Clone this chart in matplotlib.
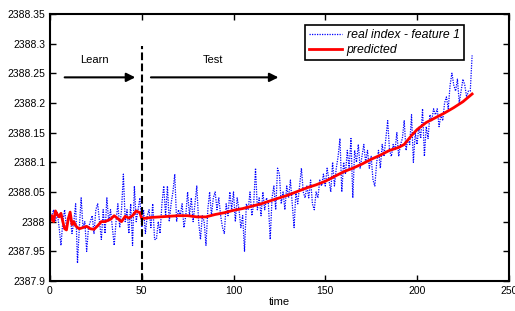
import matplotlib
matplotlib.use('Agg')
import matplotlib.pyplot as plt
import numpy as np

plt.rcParams['font.family'] = ['Liberation Sans', 'DejaVu Sans']

# real index - feature 1, one value per time step (t = 0..230)
real_vals = [
    2388.00, 2388.01, 2388.02, 2388.00, 2388.015, 2387.99, 2387.96, 2388.00, 2388.02, 2387.99,
    2388.00, 2388.01, 2387.98, 2388.00, 2388.03, 2387.93, 2387.99, 2388.04, 2387.99, 2388.00,
    2387.95, 2387.99, 2388.00, 2388.01, 2387.98, 2388.02, 2388.03, 2388.00, 2387.97, 2388.02,
    2387.98, 2388.04, 2388.00, 2388.02, 2387.99, 2387.96, 2388.00, 2388.03, 2387.99, 2388.02,
    2388.08, 2388.00, 2388.02, 2387.98, 2388.03, 2387.96, 2388.06, 2388.00, 2388.02, 2388.04,
    2387.99, 2388.02, 2387.98, 2388.01, 2388.02, 2387.99, 2388.03, 2387.97, 2387.97, 2388.00,
    2387.98, 2388.03, 2388.06, 2388.01, 2388.06, 2388.00, 2388.03, 2388.05, 2388.08, 2388.00,
    2388.02, 2388.01, 2388.03, 2387.99, 2388.01, 2388.05, 2388.01, 2388.04, 2388.00, 2388.03,
    2388.06, 2388.00, 2387.97, 2388.01, 2388.00, 2387.96, 2388.02, 2388.05, 2388.01, 2388.04,
    2388.05, 2388.02, 2388.04, 2388.01, 2387.99, 2387.98, 2388.03, 2388.01, 2388.05, 2388.02,
    2388.05, 2388.00, 2388.04, 2388.02, 2387.99, 2388.01, 2387.95, 2388.03, 2388.02, 2388.05,
    2388.01, 2388.03, 2388.09, 2388.02, 2388.04, 2388.01, 2388.05, 2388.02, 2388.04, 2388.03,
    2387.97, 2388.04, 2388.06, 2388.02, 2388.09, 2388.08, 2388.03, 2388.05, 2388.02, 2388.06,
    2388.04, 2388.07, 2388.03, 2387.99, 2388.05, 2388.03, 2388.06, 2388.09, 2388.05, 2388.04,
    2388.06, 2388.04, 2388.07, 2388.03, 2388.02, 2388.05, 2388.04, 2388.07, 2388.06, 2388.08,
    2388.06, 2388.09, 2388.07, 2388.05, 2388.10, 2388.06, 2388.09, 2388.11, 2388.14, 2388.05,
    2388.10, 2388.08, 2388.12, 2388.09, 2388.14, 2388.04, 2388.12, 2388.10, 2388.13, 2388.09,
    2388.11, 2388.13, 2388.10, 2388.12, 2388.09, 2388.11, 2388.07, 2388.06, 2388.10, 2388.12,
    2388.09, 2388.13, 2388.11, 2388.14, 2388.17, 2388.12, 2388.11, 2388.13, 2388.12, 2388.15,
    2388.11, 2388.13, 2388.14, 2388.17, 2388.12, 2388.14, 2388.13, 2388.18, 2388.10, 2388.15,
    2388.13, 2388.16, 2388.14, 2388.19, 2388.11, 2388.16, 2388.14, 2388.18, 2388.17, 2388.19,
    2388.18, 2388.19, 2388.16, 2388.18, 2388.17, 2388.20, 2388.21, 2388.19, 2388.23, 2388.25,
    2388.23, 2388.22, 2388.24, 2388.20, 2388.22, 2388.24, 2388.23, 2388.21, 2388.22, 2388.22,
    2388.28,
]
real_t = np.arange(len(real_vals))

# predicted series
pred_t = [0, 1, 2, 3, 4, 5, 6, 7, 8, 9, 10, 11, 12, 13, 14, 15, 16, 18, 20, 22, 24, 26, 28,
          30, 33, 35, 37, 39, 41, 43, 45, 47, 49, 50, 55, 60, 70, 75, 80, 85, 90, 95,
          100, 105, 110, 115, 120, 125, 130, 135, 140, 145, 150, 155, 160, 165, 170, 175,
          180, 185, 190, 193, 197, 200, 205, 210, 215, 220, 225, 230]
pred_vals = [2388.00, 2388.01, 2388.00, 2388.018, 2388.012, 2388.008, 2388.014, 2388.0, 2387.988,
             2387.986, 2388.005, 2388.016, 2387.995, 2388.0, 2387.993, 2387.99, 2387.988, 2387.99,
             2387.992, 2387.988, 2387.987, 2387.993, 2388.0, 2388.0, 2388.004, 2388.01, 2388.005,
             2388.0, 2388.009, 2388.006, 2388.01, 2388.018, 2388.015, 2388.005, 2388.007, 2388.008,
             2388.01, 2388.01, 2388.008, 2388.008, 2388.012, 2388.015, 2388.019, 2388.022,
             2388.026, 2388.03, 2388.035, 2388.04, 2388.045, 2388.051, 2388.057, 2388.062,
             2388.068, 2388.076, 2388.084, 2388.09, 2388.097, 2388.105, 2388.112, 2388.12,
             2388.125, 2388.13, 2388.145, 2388.155, 2388.167, 2388.175, 2388.183, 2388.192,
             2388.202, 2388.215]

fig = plt.figure(figsize=(5.15, 3.11), dpi=100)
ax = fig.add_axes([0.097, 0.0965, 0.891, 0.859])

ax.plot(real_t, real_vals, linestyle=(0, (1, 1)), color='blue', linewidth=0.9,
        label='real index - feature 1')
ax.plot(pred_t, pred_vals, '-', color='red', linewidth=2.0, label='predicted')

# learn / test split
ax.plot([50, 50], [2387.9, 2388.295], '--', color='black', linewidth=1.5)
ax.annotate('', xy=(48, 2388.243), xytext=(6.5, 2388.243),
            arrowprops=dict(arrowstyle='-|>', color='black', lw=1.5, mutation_scale=13))
ax.annotate('', xy=(126, 2388.243), xytext=(53.5, 2388.243),
            arrowprops=dict(arrowstyle='-|>', color='black', lw=1.5, mutation_scale=13))
ax.text(24.5, 2388.273, 'Learn', ha='center', va='center', fontsize=8)
ax.text(89, 2388.273, 'Test', ha='center', va='center', fontsize=8)

ax.set_xlim(0, 250)
ax.set_ylim(2387.9, 2388.35)
ax.set_xticks([0, 50, 100, 150, 200, 250])
ax.set_yticks(np.round(np.arange(2387.9, 2388.351, 0.05), 2))
ax.set_yticklabels(['2387.9', '2387.95', '2388', '2388.05', '2388.1', '2388.15',
                    '2388.2', '2388.25', '2388.3', '2388.35'])
ax.tick_params(direction='in', top=True, right=True, labelsize=7.5, length=4, width=1)
for s in ax.spines.values():
    s.set_linewidth(1.5)
ax.set_xlabel('time', fontsize=8, labelpad=1)

leg = ax.legend(loc='upper left', bbox_to_anchor=(0.555, 0.96),
                prop={'style': 'italic', 'size': 8.8}, fancybox=False, framealpha=1,
                edgecolor='black', handlelength=2.7, handletextpad=0.4,
                borderpad=0.35, labelspacing=0.25, borderaxespad=0)
leg.get_frame().set_linewidth(1.2)

fig.savefig('out.png', dpi=100)
